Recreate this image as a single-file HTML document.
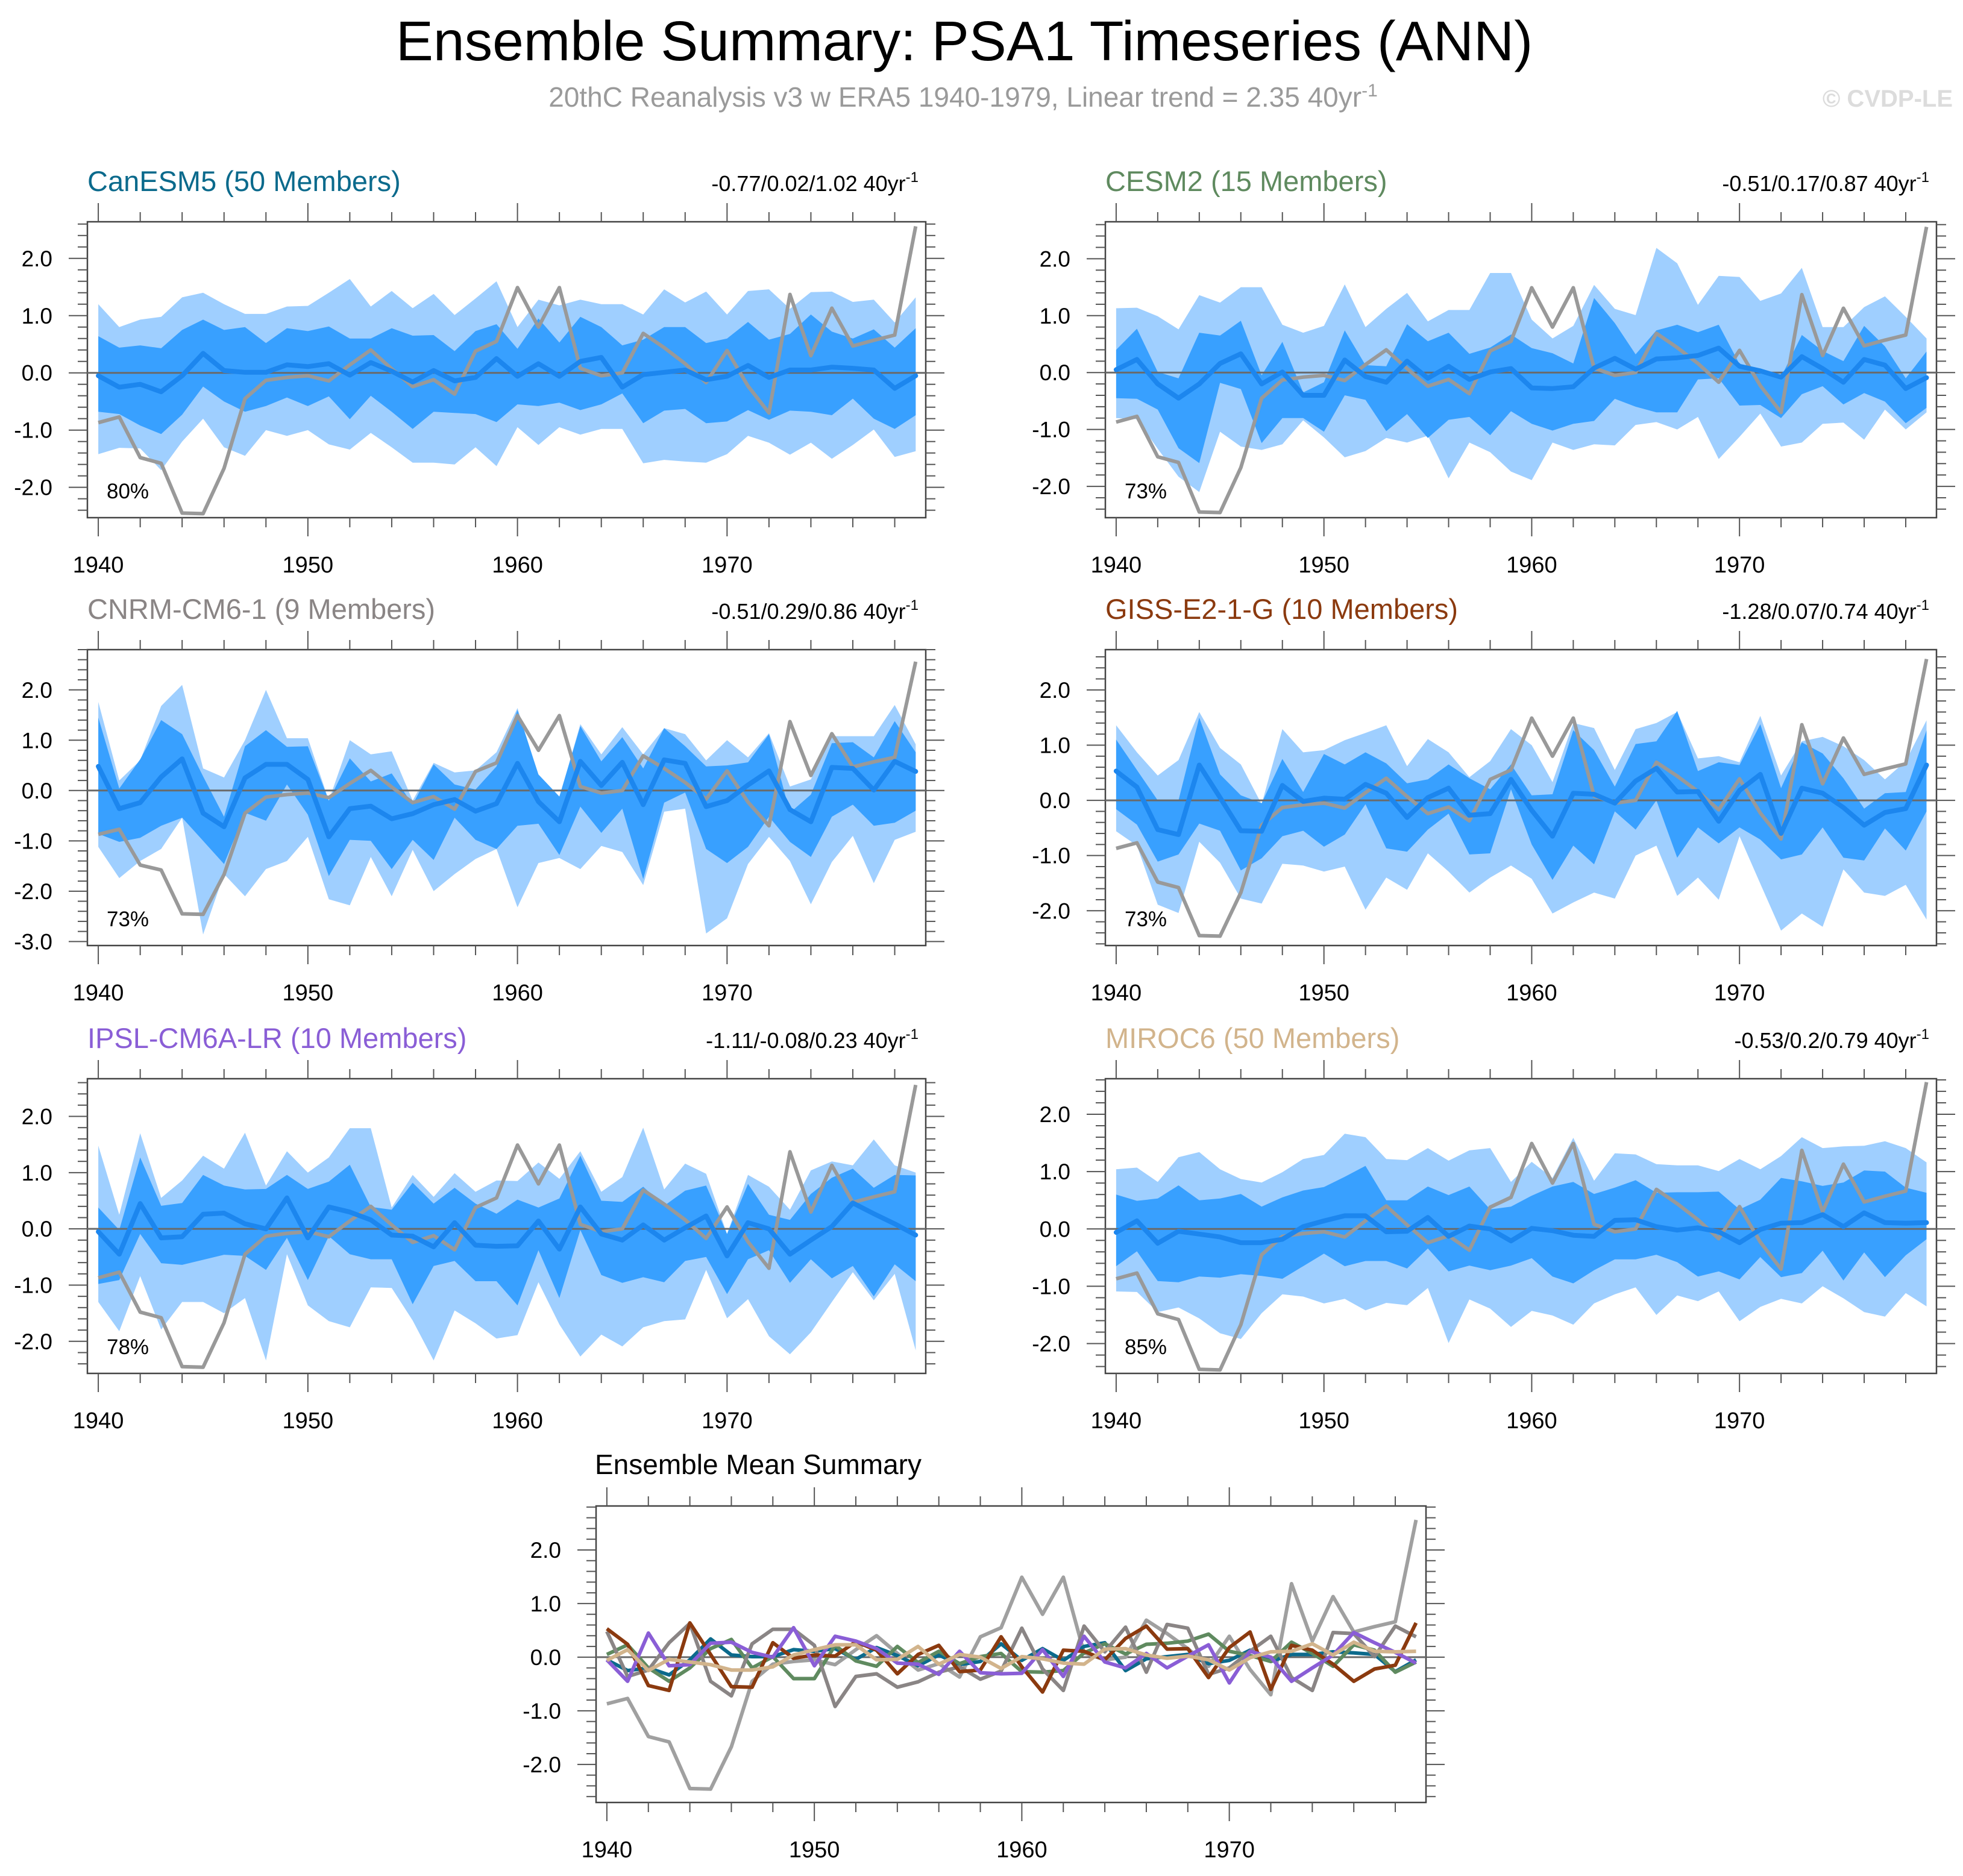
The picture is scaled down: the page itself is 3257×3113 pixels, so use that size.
<!DOCTYPE html>
<html><head><meta charset="utf-8"><title>Ensemble Summary: PSA1 Timeseries (ANN)</title>
<style>
html,body{margin:0;padding:0;background:#fff;}
svg{display:block;font-family:"Liberation Sans",Arial,sans-serif;}
</style></head>
<body>
<svg id="fig" xmlns="http://www.w3.org/2000/svg" width="3257" height="3113" viewBox="0 0 3257 3113">
<rect x="0" y="0" width="3257" height="3113" fill="#fff"/>
<text x="1600" y="100" text-anchor="middle" font-size="93" fill="#000">Ensemble Summary: PSA1 Timeseries (ANN)</text>
<text x="1598" y="177" text-anchor="middle" font-size="46" fill="#9a9a9a">20thC Reanalysis v3 w ERA5 1940-1979, Linear trend = 2.35 40yr<tspan font-size="30" dy="-17">-1</tspan></text>
<text x="3240" y="177" text-anchor="end" font-size="40" font-weight="bold" fill="#dcdcdc">© CVDP-LE</text>
</svg>
<script>
const years = [1940,1941,1942,1943,1944,1945,1946,1947,1948,1949,1950,1951,1952,1953,1954,1955,1956,1957,1958,1959,1960,1961,1962,1963,1964,1965,1966,1967,1968,1969,1970,1971,1972,1973,1974,1975,1976,1977,1978,1979];
const obs = [-0.87,-0.77,-1.48,-1.58,-2.45,-2.46,-1.67,-0.45,-0.13,-0.08,-0.05,-0.14,0.14,0.40,0.07,-0.24,-0.12,-0.37,0.38,0.55,1.49,0.80,1.49,0.08,-0.05,0.00,0.69,0.44,0.16,-0.17,0.39,-0.23,-0.70,1.37,0.30,1.13,0.47,0.57,0.66,2.56];

const canMean = [-0.05,-0.25,-0.20,-0.33,-0.05,0.34,0.04,0.01,0.01,0.14,0.11,0.16,-0.04,0.18,0.03,-0.16,0.04,-0.14,-0.08,0.25,-0.06,0.16,-0.06,0.20,0.27,-0.25,-0.03,0.01,0.05,-0.12,-0.06,0.13,-0.08,0.05,0.05,0.10,0.08,0.05,-0.27,-0.05];
const canDarkHi = [0.64,0.44,0.48,0.43,0.75,0.93,0.75,0.80,0.52,0.78,0.73,0.81,0.60,0.60,0.78,0.65,0.66,0.38,0.73,0.85,0.42,0.95,0.53,0.98,0.80,0.48,0.58,0.80,0.80,0.52,0.60,0.89,0.58,0.68,1.02,0.72,0.60,0.76,0.44,0.78];
const canDarkLo = [-0.68,-0.72,-0.92,-1.07,-0.73,-0.24,-0.50,-0.68,-0.58,-0.43,-0.58,-0.41,-0.81,-0.40,-0.68,-0.98,-0.68,-0.70,-0.72,-0.86,-0.55,-0.58,-0.52,-0.65,-0.55,-0.36,-0.88,-0.66,-0.63,-0.88,-0.85,-0.65,-0.82,-0.66,-0.68,-0.74,-0.45,-0.80,-0.98,-0.74];
const canLightHi = [1.20,0.80,0.93,0.98,1.32,1.40,1.20,1.03,1.03,1.16,1.17,1.40,1.64,1.16,1.43,1.13,1.38,1.01,1.30,1.60,0.80,1.28,1.18,1.28,1.20,1.20,1.02,1.46,1.23,1.42,1.02,1.43,1.46,1.12,1.41,1.42,1.24,1.28,0.88,1.32];
const canLightLo = [-1.42,-1.31,-1.32,-1.70,-1.20,-0.80,-1.30,-1.45,-1.00,-1.10,-1.00,-1.25,-1.34,-1.05,-1.30,-1.57,-1.57,-1.60,-1.30,-1.63,-0.95,-1.26,-0.95,-1.08,-0.98,-0.98,-1.58,-1.52,-1.55,-1.57,-1.42,-1.10,-1.22,-1.43,-1.22,-1.50,-1.26,-0.99,-1.47,-1.37];

const cesmMean = [0.05,0.23,-0.20,-0.45,-0.20,0.16,0.33,-0.20,0.01,-0.40,-0.40,0.22,-0.07,-0.17,0.20,-0.10,0.11,-0.12,0.01,0.07,-0.27,-0.28,-0.25,0.08,0.25,0.06,0.24,0.26,0.30,0.43,0.11,0.03,-0.08,0.28,0.07,-0.17,0.23,0.13,-0.28,-0.09];
const cesmDarkHi = [0.40,0.77,0.01,-0.10,0.70,0.65,0.91,-0.05,0.54,-0.35,-0.17,0.74,0.13,0.11,0.85,0.55,0.70,0.33,0.44,0.67,0.43,0.34,0.16,1.31,0.87,0.32,0.74,0.84,0.71,0.84,0.15,0.07,-0.08,0.66,0.38,0.20,0.82,0.46,-0.10,0.37];
const cesmDarkLo = [-0.45,-0.46,-0.65,-1.33,-1.59,-0.18,-0.29,-1.24,-0.80,-0.80,-1.04,-0.40,-0.48,-1.03,-0.73,-1.15,-0.83,-0.78,-1.10,-0.68,-0.90,-1.02,-0.90,-0.85,-0.46,-0.60,-0.70,-0.70,-0.12,-0.10,-0.58,-0.57,-0.80,-0.38,-0.24,-0.56,-0.36,-0.51,-0.89,-0.62];
const cesmLightHi = [1.13,1.14,0.99,0.76,1.36,1.23,1.50,1.50,0.84,0.70,0.82,1.55,0.80,1.12,1.40,0.90,1.10,1.10,1.75,1.75,0.93,0.60,0.82,1.54,1.12,1.01,2.19,1.92,1.19,1.70,1.68,1.26,1.39,1.84,0.80,0.80,1.15,1.34,0.98,0.60];
const cesmLightLo = [-0.80,-0.82,-1.34,-1.83,-2.10,-1.04,-1.30,-1.36,-1.26,-0.84,-1.14,-1.49,-1.38,-1.15,-1.23,-1.11,-1.86,-1.23,-1.40,-1.74,-1.89,-1.23,-1.36,-1.26,-1.28,-0.92,-0.87,-1.00,-0.78,-1.52,-1.13,-0.72,-1.30,-1.23,-0.90,-0.88,-1.18,-0.65,-1.00,-0.70];

const cnrmMean = [0.48,-0.36,-0.24,0.27,0.63,-0.45,-0.72,0.25,0.52,0.52,0.22,-0.92,-0.36,-0.31,-0.56,-0.46,-0.28,-0.18,-0.41,-0.26,0.54,-0.22,-0.62,0.58,0.10,0.56,-0.28,0.61,0.54,-0.32,-0.20,0.11,0.39,-0.38,-0.62,0.46,0.44,0.01,0.58,0.38];
const cnrmDarkHi = [1.45,0.04,0.62,1.40,1.12,0.28,-0.52,0.88,1.20,0.87,0.88,-0.20,0.64,0.18,0.34,-0.28,0.52,0.12,0.02,0.48,1.60,0.32,-0.12,1.28,0.58,1.06,0.44,1.24,0.88,0.48,0.50,0.56,1.12,-0.44,-0.08,0.94,0.96,0.66,1.38,0.76];
const cnrmDarkLo = [-0.86,-1.02,-0.94,-0.70,-0.54,-1.00,-1.46,-0.44,-0.60,0.12,-0.48,-1.70,-0.98,-1.00,-1.56,-0.98,-1.38,-0.54,-0.98,-1.16,-0.70,-0.66,-1.28,-0.32,-0.84,-0.36,-1.76,-0.24,-0.04,-1.16,-1.44,-1.12,-0.52,-1.02,-1.32,-0.52,-0.28,-0.70,-0.64,-0.40];
const cnrmLightHi = [1.76,0.20,0.60,1.68,2.10,0.44,0.26,1.00,2.00,1.04,1.04,-0.20,1.00,0.72,0.78,-0.20,0.55,0.36,0.40,0.76,1.64,0.30,-0.14,1.32,0.72,1.26,0.72,1.24,1.12,0.60,1.00,0.66,1.14,0.08,0.22,1.08,1.08,1.08,1.70,0.92];
const cnrmLightLo = [-1.12,-1.74,-1.40,-1.16,-0.54,-2.86,-1.66,-2.10,-1.56,-1.40,-0.92,-2.16,-2.28,-1.32,-2.10,-1.18,-2.00,-1.66,-1.36,-1.16,-2.32,-1.44,-1.34,-1.56,-1.10,-1.22,-1.88,-0.42,-0.36,-2.84,-2.54,-1.46,-0.92,-1.40,-2.26,-1.42,-0.90,-1.84,-0.98,-0.82];

const gissMean = [0.53,0.24,-0.53,-0.62,0.64,0.05,-0.55,-0.56,0.27,-0.02,0.04,0.02,0.29,0.13,-0.31,0.05,0.22,-0.27,-0.24,0.38,-0.18,-0.65,0.13,0.11,-0.05,0.35,0.58,0.15,0.16,-0.38,0.18,0.47,-0.60,0.22,0.13,-0.13,-0.45,-0.22,-0.15,0.64];
const gissDarkHi = [1.10,0.55,0.00,0.00,1.50,0.47,0.09,-0.05,0.75,0.15,0.84,0.65,0.87,0.67,0.31,0.38,0.65,0.40,0.20,0.65,0.09,0.11,1.27,0.91,0.25,1.02,1.07,1.62,0.53,0.69,0.64,1.38,0.22,1.05,0.85,0.40,-0.15,0.13,0.15,1.27];
const gissDarkLo = [-0.16,-0.44,-1.11,-0.98,-0.42,-0.55,-1.27,-1.05,-0.65,-0.55,-0.84,-0.62,-0.07,-0.87,-0.93,-0.53,-0.24,-0.98,-0.96,0.20,-0.80,-1.44,-0.82,-1.16,-0.20,-0.53,0.00,-1.04,-0.49,-0.78,-0.49,-0.71,-1.07,-0.98,-0.49,-1.04,-1.09,-0.51,-0.91,-0.20];
const gissLightHi = [1.36,0.87,0.45,0.73,1.60,0.95,0.65,-0.07,1.29,0.87,0.91,1.09,1.22,1.36,0.62,1.11,0.87,0.42,0.71,1.29,1.00,0.33,1.40,1.31,0.55,1.29,1.40,1.60,0.76,0.80,0.69,1.53,0.45,1.07,1.15,0.98,0.73,0.38,0.71,1.45];
const gissLightLo = [-0.56,-0.82,-1.89,-2.04,-0.75,-1.13,-1.78,-1.87,-1.15,-1.18,-1.29,-1.20,-1.98,-1.40,-1.62,-0.96,-1.29,-1.67,-1.40,-1.18,-1.42,-2.05,-1.85,-1.67,-1.78,-1.00,-0.82,-1.73,-1.40,-1.80,-0.65,-1.51,-2.36,-2.05,-2.29,-1.25,-1.67,-1.73,-1.53,-2.16];

const ipslMean = [-0.05,-0.45,0.45,-0.16,-0.14,0.26,0.28,0.09,0.00,0.55,-0.16,0.39,0.30,0.16,-0.11,-0.13,-0.32,0.11,-0.29,-0.31,-0.30,0.14,-0.36,0.39,-0.09,-0.20,0.07,-0.20,0.02,0.23,-0.48,0.11,0.00,-0.45,-0.20,0.04,0.46,0.27,0.09,-0.11];
const ipslDarkHi = [0.38,-0.02,1.27,0.41,0.46,0.96,0.77,0.70,0.71,0.96,0.71,0.84,1.14,0.39,0.34,0.82,0.45,0.73,0.45,0.27,0.52,0.38,0.54,1.30,0.50,0.48,0.75,0.41,0.68,0.77,-0.09,0.80,0.25,0.16,0.62,0.91,1.07,0.73,0.96,0.95];
const ipslDarkLo = [-0.98,-0.91,-0.09,-0.61,-0.64,-0.55,-0.46,-0.48,-0.73,-0.16,-0.91,-0.13,-0.45,-0.54,-0.54,-1.34,-0.66,-0.57,-0.93,-0.93,-1.36,-0.38,-1.23,-0.02,-0.82,-0.96,-0.86,-0.95,-0.57,-0.50,-1.16,-0.54,-0.38,-0.96,-0.54,-0.88,-0.66,-1.20,-0.63,-0.93];
const ipslLightHi = [1.48,0.25,1.70,0.55,0.86,1.30,1.07,1.71,0.77,1.38,1.00,1.27,1.79,1.79,0.38,0.96,0.57,0.99,0.66,0.86,0.85,1.18,0.89,1.38,0.66,0.92,1.80,0.70,1.16,0.98,-0.09,0.96,0.75,0.34,1.04,1.20,1.13,1.59,1.13,1.00];
const ipslLightLo = [-1.30,-1.82,-0.84,-1.79,-1.30,-1.30,-1.50,-1.23,-2.34,-0.45,-1.36,-1.64,-1.75,-1.04,-1.05,-1.63,-2.34,-1.45,-1.68,-1.95,-1.89,-0.95,-1.70,-2.27,-1.88,-2.09,-1.75,-1.64,-1.61,-0.73,-1.59,-1.25,-1.91,-2.23,-1.84,-1.30,-0.77,-1.27,-0.80,-2.16];

const mirocMean = [-0.06,0.14,-0.25,-0.04,-0.09,-0.14,-0.24,-0.24,-0.18,0.04,0.14,0.23,0.23,-0.05,-0.04,0.20,-0.13,0.05,0.00,-0.21,0.01,-0.03,-0.11,-0.13,0.15,0.16,0.04,-0.02,0.02,-0.05,-0.24,-0.01,0.10,0.11,0.25,0.04,0.28,0.11,0.10,0.11];
const mirocDarkHi = [0.60,0.49,0.53,0.76,0.50,0.53,0.61,0.39,0.55,0.67,0.73,0.91,1.10,0.50,0.50,0.74,0.59,0.74,0.34,0.39,0.58,0.74,0.82,0.61,0.72,0.85,0.63,0.64,0.64,0.65,0.34,0.51,0.89,0.83,0.75,0.81,1.02,1.00,0.72,0.63];
const mirocDarkLo = [-0.65,-0.39,-0.91,-0.93,-0.83,-0.85,-0.79,-0.82,-0.87,-0.65,-0.43,-0.65,-0.56,-0.56,-0.69,-0.34,-0.74,-0.64,-0.72,-0.64,-0.51,-0.83,-0.95,-0.72,-0.53,-0.53,-0.45,-0.58,-0.83,-0.74,-0.88,-0.49,-0.84,-0.77,-0.38,-0.90,-0.41,-0.84,-0.46,-0.18];
const mirocLightHi = [1.04,1.07,0.82,1.25,1.34,1.04,0.87,0.81,0.99,1.22,1.29,1.66,1.60,1.22,1.20,1.41,1.19,1.37,1.41,0.82,1.17,0.89,1.59,0.84,1.32,1.30,1.13,1.11,1.11,1.01,1.22,1.04,1.27,1.60,1.41,1.44,1.45,1.53,1.41,1.16];
const mirocLightLo = [-1.09,-1.10,-1.45,-1.37,-1.56,-1.82,-1.92,-1.47,-1.14,-1.18,-1.30,-1.22,-1.42,-1.29,-1.33,-1.03,-1.99,-1.23,-1.39,-1.71,-1.43,-1.51,-1.67,-1.30,-1.14,-1.02,-1.50,-1.16,-1.26,-1.09,-1.61,-1.36,-1.22,-1.30,-1.00,-1.21,-1.45,-1.53,-1.12,-1.35];

const modelNames = ["CanESM5 (50 Members)","CESM2 (15 Members)","CNRM-CM6-1 (9 Members)","GISS-E2-1-G (10 Members)","IPSL-CM6A-LR (10 Members)","MIROC6 (50 Members)"];
const trendLabels = ["-0.77/0.02/1.02 40yr","-0.51/0.17/0.87 40yr","-0.51/0.29/0.86 40yr","-1.28/0.07/0.74 40yr","-1.11/-0.08/0.23 40yr","-0.53/0.2/0.79 40yr"];
const pctLabels = ["80%","73%","73%","73%","78%","85%"];
const xTickLabels = ["1940","1950","1960","1970"];

const NS = "http://www.w3.org/2000/svg";
const svg = document.getElementById("fig");
const modelColors = ["#0b6a8c","#5f8a5f","#8a8585","#8b3a0f","#8a5ed6","#d2b48c"];
const slugs = ["canesm5","cesm2","cnrm-cm6-1","giss-e2-1-g","ipsl-cm6a-lr","miroc6"];
const means = [canMean,cesmMean,cnrmMean,gissMean,ipslMean,mirocMean];
const darkHi = [canDarkHi,cesmDarkHi,cnrmDarkHi,gissDarkHi,ipslDarkHi,mirocDarkHi];
const darkLo = [canDarkLo,cesmDarkLo,cnrmDarkLo,gissDarkLo,ipslDarkLo,mirocDarkLo];
const lightHi = [canLightHi,cesmLightHi,cnrmLightHi,gissLightHi,ipslLightHi,mirocLightHi];
const lightLo = [canLightLo,cesmLightLo,cnrmLightLo,gissLightLo,ipslLightLo,mirocLightLo];

const boxes = [
  {l:145,r:1536,t:368,b:859,ymin:-2.53,ymax:2.64},
  {l:1834,r:3213,t:368,b:859,ymin:-2.55,ymax:2.65},
  {l:145,r:1536,t:1078,b:1569,ymin:-3.08,ymax:2.8},
  {l:1834,r:3213,t:1078,b:1569,ymin:-2.63,ymax:2.73},
  {l:145,r:1536,t:1790,b:2279,ymin:-2.57,ymax:2.67},
  {l:1834,r:3213,t:1790,b:2279,ymin:-2.52,ymax:2.62}
];
const summaryBox = {l:989,r:2366,t:2499,b:2991,ymin:-2.71,ymax:2.82};

function mk(tag, attrs, parent){
  const e = document.createElementNS(NS, tag);
  for (const k in attrs) e.setAttribute(k, attrs[k]);
  parent.appendChild(e);
  return e;
}
function xScale(box, yr){ return box.l + (yr - 1939.48) / 40 * (box.r - box.l); }
function yScale(box, v){ return box.b - (v - box.ymin) / (box.ymax - box.ymin) * (box.b - box.t); }
function linePath(box, vals){
  return vals.map((v,i)=>(i?"L":"M")+xScale(box,years[i]).toFixed(1)+","+yScale(box,v).toFixed(1)).join(" ");
}
function bandPath(box, hi, lo){
  let d = hi.map((v,i)=>(i?"L":"M")+xScale(box,years[i]).toFixed(1)+","+yScale(box,v).toFixed(1)).join(" ");
  for (let i=lo.length-1;i>=0;i--) d += " L"+xScale(box,years[i]).toFixed(1)+","+yScale(box,lo[i]).toFixed(1);
  return d+" Z";
}
function drawAxes(g, box){
  const frame = mk("rect",{x:box.l,y:box.t,width:box.r-box.l,height:box.b-box.t,fill:"none",stroke:"#444","stroke-width":2.5},g);
  
  
  const start = Math.ceil(box.ymin/0.2 - 1e-6);
  const end = Math.floor(box.ymax/0.2 + 1e-6);
  for (let k=start;k<=end;k++){
    const v = k*0.2;
    const major = (k % 5 === 0);
    const y = yScale(box, v);
    const len = major ? 31 : 16;
    const t1 = mk("line",{x1:box.l-len,x2:box.l,y1:y,y2:y,stroke:"#555","stroke-width":2},g);
    
    
    const t2 = mk("line",{x1:box.r,x2:box.r+len,y1:y,y2:y,stroke:"#555","stroke-width":2},g);
    
    
    if (major){
      const lab = mk("text",{x:box.l-58,y:y+13,"text-anchor":"end","font-size":37,fill:"#000"},g);
      lab.textContent = (Math.round(v)).toFixed(1);
      
      
    }
  }
  for (let yr=1940; yr<=1978; yr+=2){
    const major = (yr % 10 === 0);
    const x = xScale(box, yr);
    const len = major ? 31 : 16;
    const t1 = mk("line",{x1:x,x2:x,y1:box.t-len,y2:box.t,stroke:"#555","stroke-width":2},g);
    
    
    const t2 = mk("line",{x1:x,x2:x,y1:box.b,y2:box.b+len,stroke:"#555","stroke-width":2},g);
    
    
  }
  xTickLabels.forEach(s=>{
    const x = xScale(box, +s);
    const lab = mk("text",{x:x,y:box.b+91,"text-anchor":"middle","font-size":38,fill:"#000"},g);
    lab.textContent = s;
    
    
  });
  const zero = mk("line",{x1:box.l,x2:box.r,y1:yScale(box,0),y2:yScale(box,0),stroke:"#6a6a6a","stroke-width":3},g);
  
  
}

for (let m=0;m<6;m++){
  const box = boxes[m];
  const g = mk("g",{},svg);
  
  
  const lb = mk("path",{d:bandPath(box, lightHi[m], lightLo[m]),fill:"#9fcfff"},g);
  
  
  const db = mk("path",{d:bandPath(box, darkHi[m], darkLo[m]),fill:"#38a0ff"},g);
  
  
  drawAxes(g, box);
  const ob = mk("path",{d:linePath(box, obs),fill:"none",stroke:"#999","stroke-width":6,"stroke-linejoin":"round"},g);
  
  
  const ml = mk("path",{d:linePath(box, means[m]),fill:"none",stroke:"#1c86ee","stroke-width":8,"stroke-linejoin":"round","stroke-linecap":"round"},g);
  
  
  const title = mk("text",{x:box.l,y:box.t-51,"font-size":47,fill:modelColors[m]},g);
  title.textContent = modelNames[m];
  
  
  const tr = mk("text",{x:box.r-12,y:box.t-51,"text-anchor":"end","font-size":36,fill:"#000"},g);
  tr.textContent = trendLabels[m];
  const sup = mk("tspan",{"font-size":24,dy:-15},tr);
  sup.textContent = "-1";
  
  
  const pct = mk("text",{x:box.l+32,y:box.b-32,"font-size":35,fill:"#000"},g);
  pct.textContent = pctLabels[m];
  
  
}

const sg = mk("g",{},svg);


drawAxes(sg, summaryBox);
const so = mk("path",{d:linePath(summaryBox, obs),fill:"none",stroke:"#a0a0a0","stroke-width":6,"stroke-linejoin":"round"},sg);


for (let m=0;m<6;m++){
  const p = mk("path",{d:linePath(summaryBox, means[m]),fill:"none",stroke:modelColors[m],"stroke-width":6,"stroke-linejoin":"round"},sg);
  
  
}
const st = mk("text",{x:summaryBox.l-2,y:summaryBox.t-53,"font-size":46,fill:"#000"},sg);
st.textContent = "Ensemble Mean Summary";


</script>
</body></html>
